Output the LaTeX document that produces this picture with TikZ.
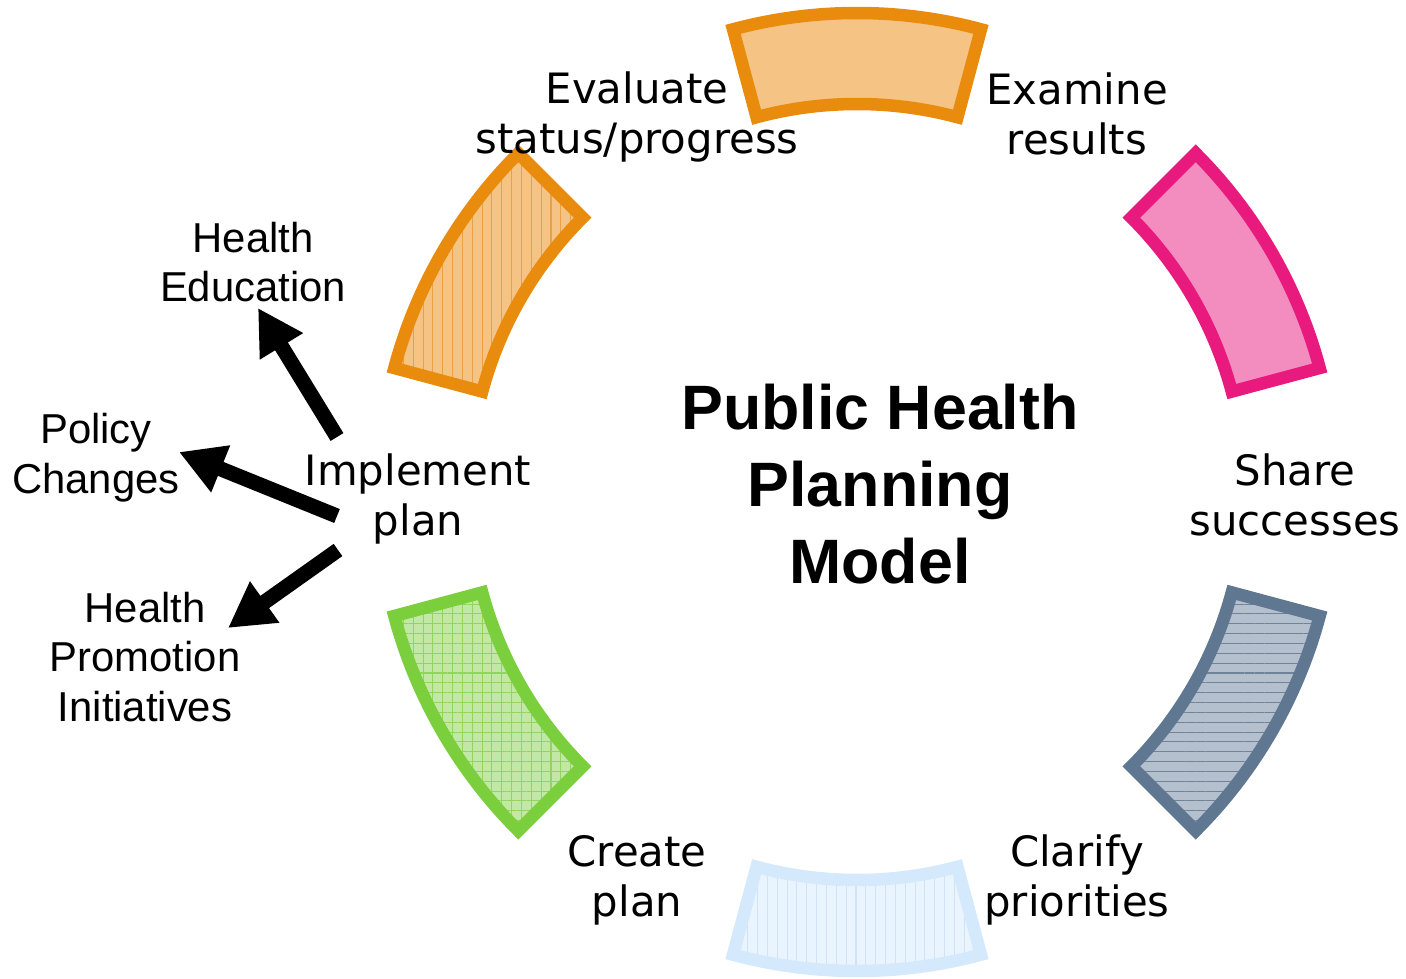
\documentclass[tikz,border=0pt]{standalone}
\usepackage{fontspec}
\newfontfamily\ringfont{DejaVu Sans}
\newfontfamily\sidefont{Liberation Sans}
\usetikzlibrary{arrows.meta,patterns.meta}

\definecolor{segorange}{RGB}{233,139,12}
\definecolor{orangefill}{RGB}{245,196,132}
\definecolor{orangehatch}{RGB}{236,160,70}
\definecolor{segpink}{RGB}{233,26,125}
\definecolor{pinkfill}{RGB}{244,141,191}
\definecolor{segslate}{RGB}{95,119,145}
\definecolor{slatefill}{RGB}{180,192,205}
\definecolor{slatehatch}{RGB}{111,131,153}
\definecolor{segblue}{RGB}{212,233,251}
\definecolor{bluefill}{RGB}{234,244,254}
\definecolor{bluehatch}{RGB}{208,227,245}
\definecolor{seggreen}{RGB}{124,207,60}
\definecolor{greenfill}{RGB}{195,232,165}
\definecolor{greenhatch}{RGB}{144,214,94}

\tikzset{
  part/.style={line width=0.25cm, line join=miter},
  orangepart/.style={part, draw=segorange, fill=orangefill},
  orangelines/.style={part, draw=segorange, preaction={fill=orangefill},
    pattern={Lines[angle=90,distance=5.6pt,line width=0.6pt]}, pattern color=orangehatch},
  pinkpart/.style={part, draw=segpink, fill=pinkfill},
  slatelines/.style={part, draw=segslate, preaction={fill=slatefill},
    pattern={Lines[angle=0,distance=5.6pt,line width=0.6pt]}, pattern color=slatehatch},
  bluelines/.style={part, draw=segblue, preaction={fill=bluefill},
    pattern={Lines[angle=90,distance=5.6pt,line width=0.6pt]}, pattern color=bluehatch},
  greengrid/.style={part, draw=seggreen, preaction={fill=greenfill},
    pattern={Hatch[angle=0,distance=5.6pt,line width=0.6pt]}, pattern color=greenhatch},
  ringlabel/.style={font=\ringfont\fontsize{23.8}{28.3}\selectfont, align=center, inner sep=0pt},
  sidelabel/.style={font=\sidefont\fontsize{23.8}{28.3}\selectfont, align=center, inner sep=0pt},
  bigarrow/.style={line width=0.3cm, -{Triangle[length=0.9cm,width=0.95cm]}},
}

\begin{document}
\begin{tikzpicture}[x=0.02cm,y=0.02cm]
\useasboundingbox (0,0) rectangle (1406,978);

% ring of six parts
\begin{scope}[shift={(857,486)}]
  \foreach \a/\st in {90/orangepart,150/orangelines,210/greengrid,270/bluelines,330/slatelines,30/pinkpart}
    \draw[\st] (\a-15:479) arc[start angle=\a-15, delta angle=30, radius=479]
      -- (\a+15:388) arc[start angle=\a+15, delta angle=-30, radius=388] -- cycle;
\end{scope}

% labels between the parts
\node[ringlabel] (evaluate) at (637,861) {Evaluate\\status/progress};
\node[ringlabel] (examine) at (1077,864) {Examine\\results};
\node[ringlabel] (share) at (1295,483) {Share\\successes};
\node[ringlabel] (clarify) at (1077,98) {Clarify\\priorities};
\node[ringlabel] (create) at (637,98) {Create\\plan};
\node[ringlabel] (implement) at (418,479) {Implement\\plan};

\node[font=\sidefont\bfseries\fontsize{35.7}{43.6}\selectfont, align=center, inner sep=0pt]
  (title) at (880,494) {Public Health\\Planning\\Model};

% what the plan leads to
\node[sidelabel] (education) at (253,716) {Health\\Education};
\node[sidelabel] (policy) at (96,520) {Policy\\Changes};
\node[sidelabel] (promotion) at (145,321) {Health\\Promotion\\Initiatives};

\coordinate (edu tail) at (337,541);
\coordinate (edu tip) at (258,670);
\coordinate (pol tail) at (337,462);
\coordinate (pol tip) at (179,526);
\coordinate (pro tail) at (338,428);
\coordinate (pro tip) at (228,350);

\draw[bigarrow] (edu tail) -- (edu tip);
\draw[bigarrow] (pol tail) -- (pol tip);
\draw[bigarrow] (pro tail) -- (pro tip);
\end{tikzpicture}
\end{document}
